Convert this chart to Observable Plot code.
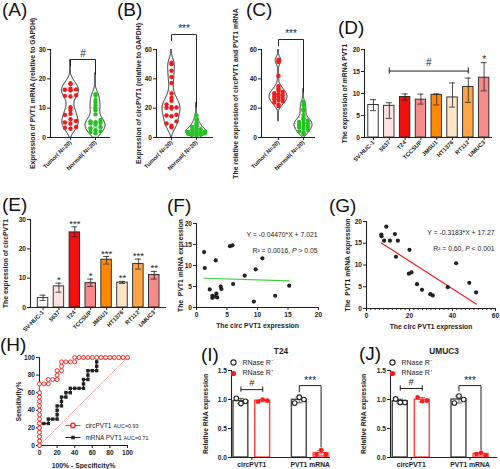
<!DOCTYPE html>
<html><head><meta charset="utf-8">
<script src="https://cdn.jsdelivr.net/npm/d3@7"></script>
<script src="https://cdn.jsdelivr.net/npm/@observablehq/plot@0.6"></script>
<style>
body{margin:0;background:#fff;}
#root{position:relative;width:500px;height:469px;overflow:hidden;background:#fff;font-family:"Liberation Sans",Arial,sans-serif;}
.lab{position:absolute;font-size:19px;line-height:1;color:#111;white-space:nowrap;}
</style></head><body><div id="root"></div>
<script>
// ---------------- DATA ----------------
const tnGroups = ["Tumor( N=20)", "Normal( N=20)"];
const aTumor  = [18.5,18.2,16.6,16.4,16.3,16.1,14.4,14.2,14.0,10.3,9.4,8.1,7.7,6.2,5.6,5.1,4.7,3.6,3.3,3.0];
const aNormal = [14.8,14.3,12.8,11.9,10.9,9.9,9.3,7.9,6.0,5.5,5.2,5.0,4.8,4.4,3.6,3.1,2.5,2.1,1.9,1.4];
const bTumor  = [51,50,45.5,41.2,37.2,30,27,25,22.5,20.8,20.5,20.2,19.8,15.5,15,14.5,11,9.5,8,7];
const bNormal = [15,12.2,10,9.2,8.3,7.2,6.3,5.6,5.1,4.6,4.2,3.8,3.5,3.2,3.0,2.8,2.5,2.2,2.0,1.6];
const cTumor  = [53,52.2,51.5,42,35,33.2,32,31,30.2,29.5,28.8,28.2,27.6,27,26.3,25.5,24.6,23.8,22.6,21.4];
const cNormal = [24.3,22.2,19.3,18.2,15.4,13.3,12.3,11.4,10.6,10,9.3,8.6,8,7.4,6.9,6,5.1,4.2,3.3,2.2];

const cellLines  = ["SV-HUC-1","5637","T24","TCCSUP","JMSU1","HT1376","RT112","UMUC3"];
const cellColors = ["#ffffff","#fde2e2","#f01010","#f78a8a","#ff8a00","#fde5c8","#ffa444","#f78a8a"];
const dMean = [7.4,7.2,9.2,8.6,9.7,9.1,11.5,13.6];
const dHi   = [8.6,7.9,9.9,9.85,9.9,12.4,13.5,17.0];
const dLo   = [6.1,4.35,8.5,7.6,7.4,6.9,8.0,10.6];
const eMean = [3.2,7.2,25.6,8.3,16.3,8.5,14.8,11.1];
const eHi   = [4.2,8.3,27.5,9.7,17.4,8.9,16.5,12.3];
const eLo   = [2.4,5.2,24.1,7.2,14.8,8.2,13.1,9.7];
const eStars = ["","*","***","*","***","**","***","**"];

const fX = [1.25,1.36,3.15,2.17,2.6,2.6,3.26,3.4,3.97,4.08,5.5,5.9,6.0,7.9,9.7,9.4,10.8,12.9,15.2,2.9];
const fY = [13.2,9.4,11.2,4.3,2.8,2.3,3.3,2.4,5.0,4.4,14.6,14.8,5.6,7.6,9.1,1.4,11.7,2.8,5.2,2.6];
const fFit = {slope:-0.04470, intercept:7.021, eq:"Y = -0.04470*X + 7.021", r2:"R² = 0.0016, P > 0.05"};
const gX = [6.9,7.0,8.2,9.2,10.9,13.2,14.6,13.7,20,19.7,20.9,23.5,25.8,29.7,30.8,37.8,41.7,47.8,51.0];
const gY = [17.0,16.6,15.6,18.8,15.6,17.1,15.6,11.9,13.5,8.0,8.3,5.6,4.3,3.3,3.0,4.9,10.4,5.9,3.7];
const gFit = {slope:-0.3183, intercept:17.27, eq:"Y = -0.3183*X + 17.27", r2:"R² = 0.60, P < 0.001"};

const rocCircX = [0,0,0,0,0,0,0,0,0,0,0,0,0,0,5,10,10,15,20,20,20,25,25,25,30,35,40,40,45,50,55,60,65,70,75,80,85,90,95,100];
const rocCircY = [0,5,10,15,20,25,30,35,40,45,50,55,60,70,70,70,75,75,75,80,85,85,90,95,95,95,95,100,100,100,100,100,100,100,100,100,100,100,100,100];
const rocMrnaX = [0,0,0,0,0,0,5,10,10,15,20,20,20,20,25,25,25,30,30,35,35,40,45,50,50,50,55,55,55,60,65,65,65,65,70,75,80,85,90,95,100];
const rocMrnaY = [0,5,10,15,20,25,25,25,30,30,30,35,40,45,45,50,55,55,60,60,65,65,65,65,70,75,75,80,85,85,85,90,95,100,100,100,100,100,100,100,100];
const rocNames = ["circPVT1","mRNA PVT1"], rocAUC = ["AUC=0.93","AUC=0.71"];

const rnaGroups = ["circPVT1","PVT1 mRNA"];
const rnaConds = ["RNase R⁻","RNase R⁺"];
const iVals = {circMinus:[1.02,0.93,0.97], circPlus:[0.96,1.00,0.98], mrnaMinus:[0.94,1.04,1.00], mrnaPlus:[0.05,0.13,0.05]};
const jVals = {circMinus:[1.01,0.95,0.95], circPlus:[1.04,0.97,0.98], mrnaMinus:[0.94,1.06,1.00], mrnaPlus:[0.06,0.08,0.04]};

// ---------------- HELPERS ----------------
const FONT = "'Liberation Sans', Arial, Helvetica, sans-serif";
const INK = "#222";
const RED = "#f01c1c", GREEN = "#22c422";
const root = document.getElementById("root");

function mk(fr, xDom, yDom, marks, extra = {}) {
  const [x0, x1, y0, y1] = fr, p = 2;
  const svg = Plot.plot(Object.assign({
    width: x1 - x0 + 2 * p, height: y1 - y0 + 2 * p,
    marginLeft: p, marginRight: p, marginTop: p, marginBottom: p,
    x: {domain: xDom}, y: {domain: yDom},
    style: {fontFamily: FONT, overflow: "visible", background: "transparent", color: INK},
    marks
  }, extra));
  svg.style.position = "absolute";
  svg.style.left = (x0 - p) + "px";
  svg.style.top = (y0 - p) + "px";
  svg.style.maxWidth = "none";
  svg.style.overflow = "visible";
  root.appendChild(svg);
  return svg;
}
function letter(t, x, y) {
  const d = document.createElement("div");
  d.className = "lab"; d.textContent = t; d.style.left = x + "px"; d.style.top = y + "px";
  root.appendChild(d);
}
function yTitle(t, dx) {
  return Plot.text([t], {text: d => d, frameAnchor: "left", dx, rotate: -90, fontSize: 6.8, fontWeight: "bold", textAnchor: "middle", lineAnchor: "middle", fill: INK});
}
function xTitle(t, dy) {
  return Plot.text([t], {text: d => d, frameAnchor: "bottom", dy, fontSize: 6.8, fontWeight: "bold", textAnchor: "middle", lineAnchor: "middle", fill: INK});
}
function axY(ticks, fmt) {
  return Plot.axisY({ticks, tickSize: 3, tickPadding: 1.5, fontSize: 6.6, fontWeight: "bold", label: null, tickFormat: fmt});
}
// deterministic beeswarm offsets (pixels), kept inside the violin outline
function dodge(vals, pxY, step, r, halfAt) {
  const placed = [], out = new Array(vals.length);
  const order = d3.range(vals.length).sort((a, b) => vals[a] - vals[b]);
  for (const i of order) {
    const y = vals[i] * pxY;
    const maxOff = Math.max(0, halfAt(vals[i]) - 1);
    const cands = [0];
    for (let k = 1; k * step <= maxOff + 0.01; k++) cands.push(-k * step, k * step);
    let best = cands[0], bestD = -1;
    for (const off of cands) {
      const dmin = placed.length ? d3.min(placed, p => Math.hypot(p[0] - off, p[1] - y)) : Infinity;
      if (dmin >= 2 * r + 0.4) { best = off; bestD = Infinity; break; }
      if (dmin > bestD) { bestD = dmin; best = off; }
    }
    placed.push([best, y]); out[i] = best;
  }
  return out;
}

// ---------------- VIOLIN PANELS ----------------
function violinPanel(fr, yMax, yTicks, xDom, pos, series, colors, vopt, title, tdx, br) {
  const [x0, x1, y0, y1] = fr;
  const pxX = (x1 - x0) / (xDom[1] - xDom[0]), pxY = (y1 - y0) / yMax;
  const marks = [Plot.ruleY([0], {stroke: INK, strokeWidth: 1.1}), Plot.ruleX([xDom[0]], {stroke: INK, strokeWidth: 1.1})];
  series.forEach((vals, k) => {
    const o = vopt[k];
    const lo = Math.max(0, d3.min(vals) - 4 * o.bw), hi = Math.min(yMax, d3.max(vals) + 4 * o.bw);
    const grid = d3.range(0, 161).map(i => lo + (hi - lo) * i / 160);
    const dens = grid.map(y => d3.sum(vals, v => Math.exp(-0.5 * ((y - v) / o.bw) ** 2)));
    const m = d3.max(dens);
    const vd = grid.map((y, i) => { const w = Math.max(0, dens[i] / m - 0.03) / 0.97 * o.half / pxX; return {y, x1: pos[k] - w, x2: pos[k] + w}; });
    marks.push(Plot.areaX(vd, {y: "y", x1: "x1", x2: "x2", fill: "white", stroke: INK, strokeWidth: 1}));
    const s = vals.slice().sort(d3.ascending);
    const qd = [0.25, 0.5, 0.75].map(p => { const q = d3.quantile(s, p); const i = d3.minIndex(grid, g => Math.abs(g - q)); return {y: q, x1: vd[i].x1, x2: vd[i].x2}; });
    marks.push(Plot.ruleY(qd, {y: "y", x1: "x1", x2: "x2", stroke: "#777", strokeWidth: 0.7, strokeDasharray: "1.5,1.2"}));
    const halfAt = v => { const i = d3.minIndex(grid, g => Math.abs(g - v)); return (vd[i].x2 - vd[i].x1) / 2 * pxX; };
    const off = dodge(vals, pxY, o.step || 5.4, 2.2, halfAt);
    marks.push(Plot.dot(vals.map((v, i) => ({y: v, x: pos[k] + off[i] / pxX})), {x: "x", y: "y", r: 2.2, fill: colors[k]}));
  });
  marks.push(Plot.line([{x: pos[0], y: br.l}, {x: pos[0], y: br.top}, {x: pos[1], y: br.top}, {x: pos[1], y: br.r}], {x: "x", y: "y", stroke: INK, strokeWidth: 1}));
  marks.push(Plot.text([br.label], {text: d => d, x: (pos[0] + pos[1]) / 2, y: br.top, dy: -6, fontSize: 10, lineAnchor: "middle", fill: INK}));
  marks.push(axY(yTicks));
  marks.push(Plot.axisX({ticks: pos, tickFormat: d => tnGroups[pos.indexOf(d)], tickRotate: -45, tickSize: 3, tickPadding: 1, fontSize: 5.8, fontWeight: "bold", label: null}));
  marks.push(yTitle(title, tdx));
  mk(fr, xDom, [0, yMax], marks);
}

violinPanel([50, 110, 49, 137], 30, [0, 10, 20, 30], [0, 2.4], [0.8, 1.8], [aTumor, aNormal], [RED, GREEN],
  [{bw: 2.0, half: 8.5, step: 5.6}, {bw: 1.8, half: 10, step: 5.0}], "Expression of PVT1 mRNA (relative to GAPDH)", -18,
  {l: 24.5, top: 26.6, r: 21.5, label: "#"});
violinPanel([156, 213, 49, 137], 60, [0, 20, 40, 60], [0, 2.28], [0.6, 1.6], [bTumor, bNormal], [RED, GREEN],
  [{bw: 4.2, half: 9, step: 5.0}, {bw: 2.2, half: 10.5, step: 4.2}], "Expression of circPVT1 (relative to GAPDH)", -18,
  {l: 66, top: 70.2, r: 21, label: "***"});
violinPanel([261, 315, 49, 137], 60, [0, 20, 40, 60], [0, 2.16], [0.68, 1.68], [cTumor, cNormal], [RED, GREEN],
  [{bw: 2.6, half: 9, step: 4.2}, {bw: 2.2, half: 9, step: 4.4}], "The relative expression of circPVT1 and PVT1 mRNA", -26,
  {l: 62.7, top: 66.8, r: 31, label: "***"});

// ---------------- BAR PANELS D / E ----------------
function barPanel(fr, yMax, yTicks, xDom, means, his, los, title, tdx, extraMarks) {
  const data = cellLines.map((c, i) => ({i, c, m: means[i], hi: his[i], lo: los[i], color: cellColors[i]}));
  const marks = [
    Plot.rectY(data, {x1: d => d.i - 0.33, x2: d => d.i + 0.33, y1: 0, y2: "m", fill: "color", stroke: INK, strokeWidth: 0.9}),
    Plot.ruleX(data, {x: "i", y1: "lo", y2: "hi", stroke: INK, strokeWidth: 0.8}),
    Plot.ruleY(data, {y: "hi", x1: d => d.i - 0.19, x2: d => d.i + 0.19, stroke: INK, strokeWidth: 0.8}),
    Plot.ruleY(data, {y: "lo", x1: d => d.i - 0.19, x2: d => d.i + 0.19, stroke: INK, strokeWidth: 0.8}),
    Plot.ruleY([0], {stroke: INK, strokeWidth: 1.1}), Plot.ruleX([xDom[0]], {stroke: INK, strokeWidth: 1.1}),
    axY(yTicks),
    Plot.axisX({ticks: d3.range(cellLines.length), tickFormat: d => cellLines[d], tickRotate: -45, tickSize: 3, tickPadding: 1, fontSize: 5.8, fontWeight: "bold", label: null}),
    yTitle(title, tdx),
    ...extraMarks(data)
  ];
  mk(fr, xDom, [0, yMax], marks, {color: {type: "identity"}});
}
barPanel([364, 492, 49, 137], 20, [0, 5, 10, 15, 20], [-0.57, 7.53], dMean, dHi, dLo, "The expression of mRNA PVT1", -20, data => [
  Plot.line([{x: 1, y: 15.1}, {x: 6, y: 15.1}], {x: "x", y: "y", stroke: INK, strokeWidth: 1}),
  Plot.ruleX([1, 6], {x: d => d, y1: 14.4, y2: 15.8, stroke: INK, strokeWidth: 1}),
  Plot.text(["#"], {text: d => d, x: 3.5, y: 15.1, dy: -8, fontSize: 10, lineAnchor: "middle", fill: INK}),
  Plot.text([data[7]], {text: () => "*", x: "i", y: "hi", dy: -3, fontSize: 10, lineAnchor: "middle", fill: INK})
]);
barPanel([30, 166, 219, 307], 30, [0, 10, 20, 30], [-0.79, 7.77], eMean, eHi, eLo, "The expression of circPVT1", -25, data => [
  Plot.text(data, {text: d => eStars[d.i], x: "i", y: "hi", dy: -3, fontSize: 9.5, lineAnchor: "middle", fill: INK})
]);

// ---------------- SCATTER PANELS F / G ----------------
function scatterPanel(fr, xs, ys, fit, xMax, xTicks, minor, lineColor, tdx) {
  const pts = xs.map((x, i) => ({x, y: ys[i]}));
  const [xa, xb] = d3.extent(xs);
  const marks = [
    Plot.ruleY([0], {stroke: INK, strokeWidth: 1.1}), Plot.ruleX([0], {stroke: INK, strokeWidth: 1.1}),
    axY([0, 5, 10, 15, 20]),
    Plot.axisX({ticks: xTicks, tickSize: 3, tickPadding: 1.5, fontSize: 6.6, fontWeight: "bold", label: null}),
    Plot.line([xa, xb], {x: d => d, y: d => fit.intercept + fit.slope * d, stroke: lineColor, strokeWidth: 1.2}),
    Plot.dot(pts, {x: "x", y: "y", r: 2.1, fill: INK}),
    Plot.text([fit.eq], {text: d => d, frameAnchor: "top-right", dx: -1, dy: 9, textAnchor: "end", fontSize: 6.8, fill: INK}),
    Plot.text([fit.r2], {text: d => d, frameAnchor: "top-right", dx: -1, dy: 25, textAnchor: "end", fontSize: 6.8, fill: INK}),
    yTitle("The  PVT1 mRNA expression", tdx),
    xTitle("The circ PVT1 expression", 18)
  ];
  if (minor) marks.push(Plot.axisX({ticks: minor, tickSize: 2, tickFormat: () => "", label: null}));
  const svg = mk(fr, [0, xMax], [0, 20], marks);
  svg.querySelectorAll("text").forEach(t => {
    if (/P [<>]/.test(t.textContent) && t.children.length === 0) {
      const s = t.textContent, k = s.indexOf("P ");
      t.innerHTML = s.slice(0, k) + '<tspan font-style="italic">P</tspan>' + s.slice(k + 1);
    }
  });
}
scatterPanel([196, 318, 223, 307], fX, fY, fFit, 20, [0, 5, 10, 15, 20], null, "#3ccf3c", -16);
scatterPanel([366, 495, 221, 308], gX, gY, gFit, 60, [0, 20, 40, 60], d3.range(0, 61, 2), "#f02020", -19);

// ---------------- ROC PANEL H ----------------
{
  const circ = rocCircX.map((x, i) => ({x, y: rocCircY[i]}));
  const mrna = rocMrnaX.map((x, i) => ({x, y: rocMrnaY[i]}));
  const dash = {draw(ctx) { ctx.moveTo(-7.5, 0); ctx.lineTo(7.5, 0); }};
  const marks = [
    Plot.line([0, 100], {x: d => d, y: d => d, stroke: "#f5a3a3", strokeWidth: 1, strokeDasharray: "1.2,1.5"}),
    Plot.ruleY([0], {stroke: INK, strokeWidth: 1.1}), Plot.ruleX([0], {stroke: INK, strokeWidth: 1.1}),
    Plot.axisY({ticks: d3.range(0, 101, 20), tickSize: 3, tickPadding: 1.5, fontSize: 6.6, fontWeight: "bold", label: null}),
    Plot.axisX({ticks: d3.range(0, 101, 20), tickSize: 3, tickPadding: 1.5, fontSize: 6.6, fontWeight: "bold", label: null}),
    Plot.line(mrna, {x: "x", y: "y", stroke: INK, strokeWidth: 1}),
    Plot.dot(mrna, {x: "x", y: "y", symbol: "square", r: 1.9, fill: INK}),
    Plot.line(circ, {x: "x", y: "y", stroke: "#ff2a2a", strokeWidth: 1}),
    Plot.dot(circ, {x: "x", y: "y", r: 2, stroke: "#ff2a2a", strokeWidth: 1, fill: "white"}),
    // legend
    Plot.dot([0], {frameAnchor: "bottom-left", dx: 33.5, dy: -20, symbol: dash, stroke: "#ff2a2a", strokeWidth: 1}),
    Plot.dot([0], {frameAnchor: "bottom-left", dx: 33.5, dy: -20, r: 2.2, stroke: "#ff2a2a", fill: "white"}),
    Plot.dot([0], {frameAnchor: "bottom-left", dx: 33.5, dy: -8, symbol: dash, stroke: INK, strokeWidth: 1}),
    Plot.dot([0], {frameAnchor: "bottom-left", dx: 33.5, dy: -8, symbol: "square", r: 2, fill: INK}),
    Plot.text([rocNames[0]], {text: d => d, frameAnchor: "bottom-left", dx: 46, dy: -20, fontSize: 6.4, textAnchor: "start", lineAnchor: "middle", fill: INK}),
    Plot.text([rocAUC[0]], {text: d => d, frameAnchor: "bottom-left", dx: 74, dy: -19.6, fontSize: 5.4, textAnchor: "start", lineAnchor: "middle", fill: INK}),
    Plot.text([rocNames[1]], {text: d => d, frameAnchor: "bottom-left", dx: 46, dy: -8, fontSize: 6.4, textAnchor: "start", lineAnchor: "middle", fill: INK}),
    Plot.text([rocAUC[1]], {text: d => d, frameAnchor: "bottom-left", dx: 84, dy: -7.6, fontSize: 5.4, textAnchor: "start", lineAnchor: "middle", fill: INK}),
    yTitle("Sensitivity%", -21),
    xTitle("100% - Specificity%", 20)
  ];
  mk([39, 127, 357, 445], [0, 100], [0, 100], marks);
}

// ---------------- RNase R PANELS I / J ----------------
function rnasePanel(fr, vals, title, centers, off, half, tdx, br) {
  const keys = [["circMinus", 0, 0], ["circPlus", 0, 1], ["mrnaMinus", 1, 0], ["mrnaPlus", 1, 1]];
  const bars = keys.map(([k, g, c]) => ({g, c, x: centers[g] + (c ? off : -off), m: d3.mean(vals[k]), sd: d3.deviation(vals[k]), v: vals[k]}));
  const pts = bars.flatMap(b => b.v.map((v, j) => ({x: b.x + (j - 1) * half * 0.62, y: v, c: b.c})));
  const strokeOf = b => b.c ? "#ff4040" : "#444";
  const marks = [
    Plot.rectY(bars, {x1: d => d.x - half, x2: d => d.x + half, y1: 0, y2: "m", fill: "white", stroke: strokeOf, strokeWidth: 1.4}),
    Plot.ruleX(bars, {x: "x", y1: d => d.m - d.sd, y2: d => d.m + d.sd, stroke: strokeOf, strokeWidth: 0.9}),
    Plot.ruleY(bars, {y: d => d.m + d.sd, x1: d => d.x - half * 0.45, x2: d => d.x + half * 0.45, stroke: strokeOf, strokeWidth: 0.9}),
    Plot.ruleY(bars, {y: d => d.m - d.sd, x1: d => d.x - half * 0.45, x2: d => d.x + half * 0.45, stroke: strokeOf, strokeWidth: 0.9}),
    Plot.dot(pts.filter(p => !p.c), {x: "x", y: "y", r: 2.3, stroke: INK, strokeWidth: 1.1, fill: "white"}),
    Plot.dot(pts.filter(p => p.c), {x: "x", y: "y", r: 2.3, fill: "#ff1a1a"}),
    Plot.ruleY([0], {stroke: INK, strokeWidth: 1.1}), Plot.ruleX([0], {stroke: INK, strokeWidth: 1.1}),
    axY([0, 0.5, 1, 1.5], d3.format(".1f")),
    Plot.axisX({ticks: centers, tickFormat: d => rnaGroups[centers.indexOf(d)], tickSize: 3, tickPadding: 1.5, fontSize: 6.8, fontWeight: "bold", label: null}),
    // "#" bracket on circPVT1
    Plot.line([bars[0].x, bars[1].x], {x: d => d, y: br.hash, stroke: INK, strokeWidth: 1}),
    Plot.ruleX([bars[0].x, bars[1].x], {x: d => d, y1: br.hash - 0.045, y2: br.hash + 0.045, stroke: INK, strokeWidth: 1}),
    Plot.text(["#"], {text: d => d, x: (bars[0].x + bars[1].x) / 2, y: br.hash, dy: -6.5, fontSize: 9.5, lineAnchor: "middle", fill: INK}),
    // "***" bracket on PVT1 mRNA
    Plot.line([{x: bars[2].x, y: br.l}, {x: bars[2].x, y: br.top}, {x: bars[3].x, y: br.top}, {x: bars[3].x, y: br.r}], {x: "x", y: "y", stroke: INK, strokeWidth: 1}),
    Plot.text(["***"], {text: d => d, x: (bars[2].x + bars[3].x) / 2, y: br.top, dy: -5, fontSize: 10, lineAnchor: "middle", fill: INK}),
    // legend
    Plot.dot([0], {frameAnchor: "top-left", dx: 2, dy: -8, r: 2.6, stroke: INK, strokeWidth: 1.1, fill: "white"}),
    Plot.dot([0], {frameAnchor: "top-left", dx: 2, dy: 3, r: 2.6, fill: "#ff1a1a"}),
    Plot.text([rnaConds[0]], {text: d => d, frameAnchor: "top-left", dx: 11, dy: -8, fontSize: 7, textAnchor: "start", lineAnchor: "middle", fill: INK}),
    Plot.text([rnaConds[1]], {text: d => d, frameAnchor: "top-left", dx: 11, dy: 2.5, fontSize: 7, textAnchor: "start", lineAnchor: "middle", fill: INK}),
    Plot.text([title], {text: d => d, frameAnchor: "top", dy: -19, fontSize: 8.3, fontWeight: "bold", lineAnchor: "middle", fill: INK}),
    yTitle("Relative RNA expression", tdx)
  ];
  mk(fr, [0, 10], [0, 1.5], marks);
}
rnasePanel([231, 330, 370, 457], iVals, "T24", [2.05, 7.95], 1.1, 0.75, -26, {hash: 1.17, l: 1.13, top: 1.24, r: 0.18});
rnasePanel([390, 497, 370, 457], jVals, "UMUC3", [1.94, 7.43], 1.03, 0.7, -27, {hash: 1.19, l: 1.15, top: 1.24, r: 0.13});

// ---------------- PANEL LETTERS ----------------
letter("(A)", 2, 0); letter("(B)", 117, 0); letter("(C)", 246, 0); letter("(D)", 338, 18);
letter("(E)", 2, 195); letter("(F)", 167, 196); letter("(G)", 329, 196);
letter("(H)", 0, 335); letter("(I)", 201, 345); letter("(J)", 359, 344);
</script></body></html>
